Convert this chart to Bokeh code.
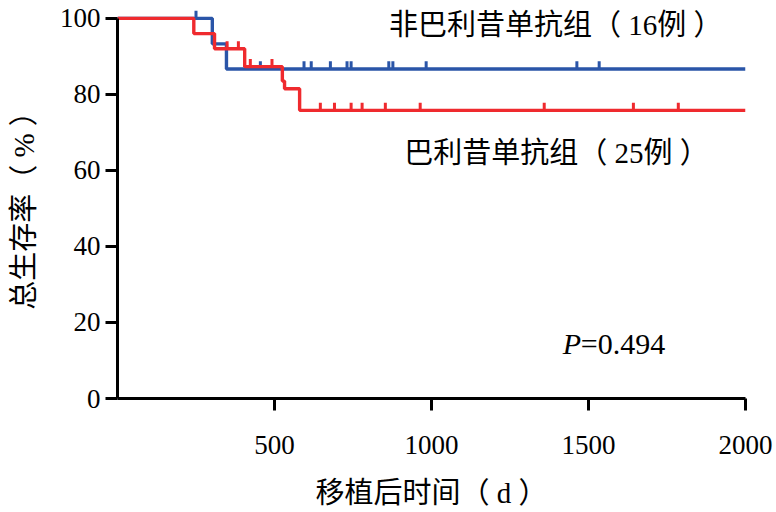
from bokeh.plotting import figure
from bokeh.models import Range1d, FixedTicker, Label
from bokeh.embed import file_html
from bokeh.resources import INLINE

# ---- data ----
# Non-basiliximab group (16 cases)
blue_event_days = [302, 347]
blue_event_surv = [93.3, 86.7]
blue_censor_days = [250, 455, 594, 617, 678, 731, 744, 864, 877, 983, 1463, 1534]
# Basiliximab group (25 cases)
red_event_days = [243, 309, 405, 525, 532, 580]
red_event_surv = [96.0, 92.0, 87.3, 83.5, 81.5, 75.8]
red_censor_days = [349, 385, 423, 492, 646, 691, 744, 779, 853, 964, 1359, 1643, 1786]

x_ticks = [500, 1000, 1500, 2000]
y_ticks = [0, 20, 40, 60, 80, 100]
x_max = 2000

BLUE = "#2a55a8"
RED = "#ef2a2e"
FONT = "Liberation Serif, Noto Sans CJK SC"

p = figure(width=776, height=512, output_backend="svg", toolbar_location=None,
           x_range=Range1d(0, x_max), y_range=Range1d(0, 102.6),
           min_border_left=117, min_border_right=31, min_border_top=8, min_border_bottom=114)
p.grid.visible = False
p.outline_line_color = None
p.background_fill_color = "white"
p.border_fill_color = "white"


def curve(event_days, event_surv):
    xs = [0] + list(event_days) + [x_max]
    ys = [100.0] + list(event_surv) + [event_surv[-1]]
    return xs, ys


def surv_at(t, event_days, event_surv):
    s = 100.0
    for d, v in zip(event_days, event_surv):
        if d <= t:
            s = v
    return s


for ed, es, cd, col in [(blue_event_days, blue_event_surv, blue_censor_days, BLUE),
                        (red_event_days, red_event_surv, red_censor_days, RED)]:
    xs, ys = curve(ed, es)
    p.step(xs, ys, mode="after", line_color=col, line_width=3.4)
    cy = [surv_at(t, ed, es) for t in cd]
    p.segment(x0=cd, y0=cy, x1=cd, y1=[v + 2.0 for v in cy], line_color=col, line_width=3)

for ax in (p.xaxis[0], p.yaxis[0]):
    ax.axis_line_width = 3
    ax.axis_line_color = "black"
    ax.major_tick_line_width = 3
    ax.major_tick_line_color = "black"
    ax.major_tick_in = 0
    ax.minor_tick_line_color = None
    ax.major_label_text_font = FONT
    ax.major_label_text_font_size = "27px"
    ax.major_label_text_color = "black"
    ax.axis_label_text_font = FONT
    ax.axis_label_text_font_size = "29px"
    ax.axis_label_text_font_style = "normal"
    ax.axis_label_text_color = "black"

p.xaxis[0].ticker = FixedTicker(ticks=x_ticks)
p.yaxis[0].ticker = FixedTicker(ticks=y_ticks)
p.xaxis[0].bounds = (0, x_max)
p.yaxis[0].bounds = (0, 100)
p.xaxis[0].major_tick_out = 12
p.yaxis[0].major_tick_out = 12
p.xaxis[0].major_label_standoff = 25
p.yaxis[0].major_label_standoff = 5
p.xaxis[0].axis_label = "移植后时间（ d ）"
p.yaxis[0].axis_label = "总生存率（ % ）"
p.xaxis[0].axis_label_standoff = 20
p.yaxis[0].axis_label_standoff = 17

p.add_layout(Label(x=865, y=98.2, text="非巴利昔单抗组（ 16例 ）", text_font=FONT,
                   text_font_size="29px", text_baseline="middle", text_color="black"))
p.add_layout(Label(x=913, y=64.5, text="巴利昔单抗组（ 25例 ）", text_font=FONT,
                   text_font_size="29px", text_baseline="middle", text_color="black"))
p.add_layout(Label(x=1418, y=14.5, text="P", text_font=FONT, text_font_style="italic",
                   text_font_size="30px", text_baseline="middle", text_color="black"))
p.add_layout(Label(x=1418, y=14.5, x_offset=18, text="=0.494", text_font=FONT,
                   text_font_size="30px", text_baseline="middle", text_color="black"))

open("out.html", "w").write(file_html(p, INLINE))
